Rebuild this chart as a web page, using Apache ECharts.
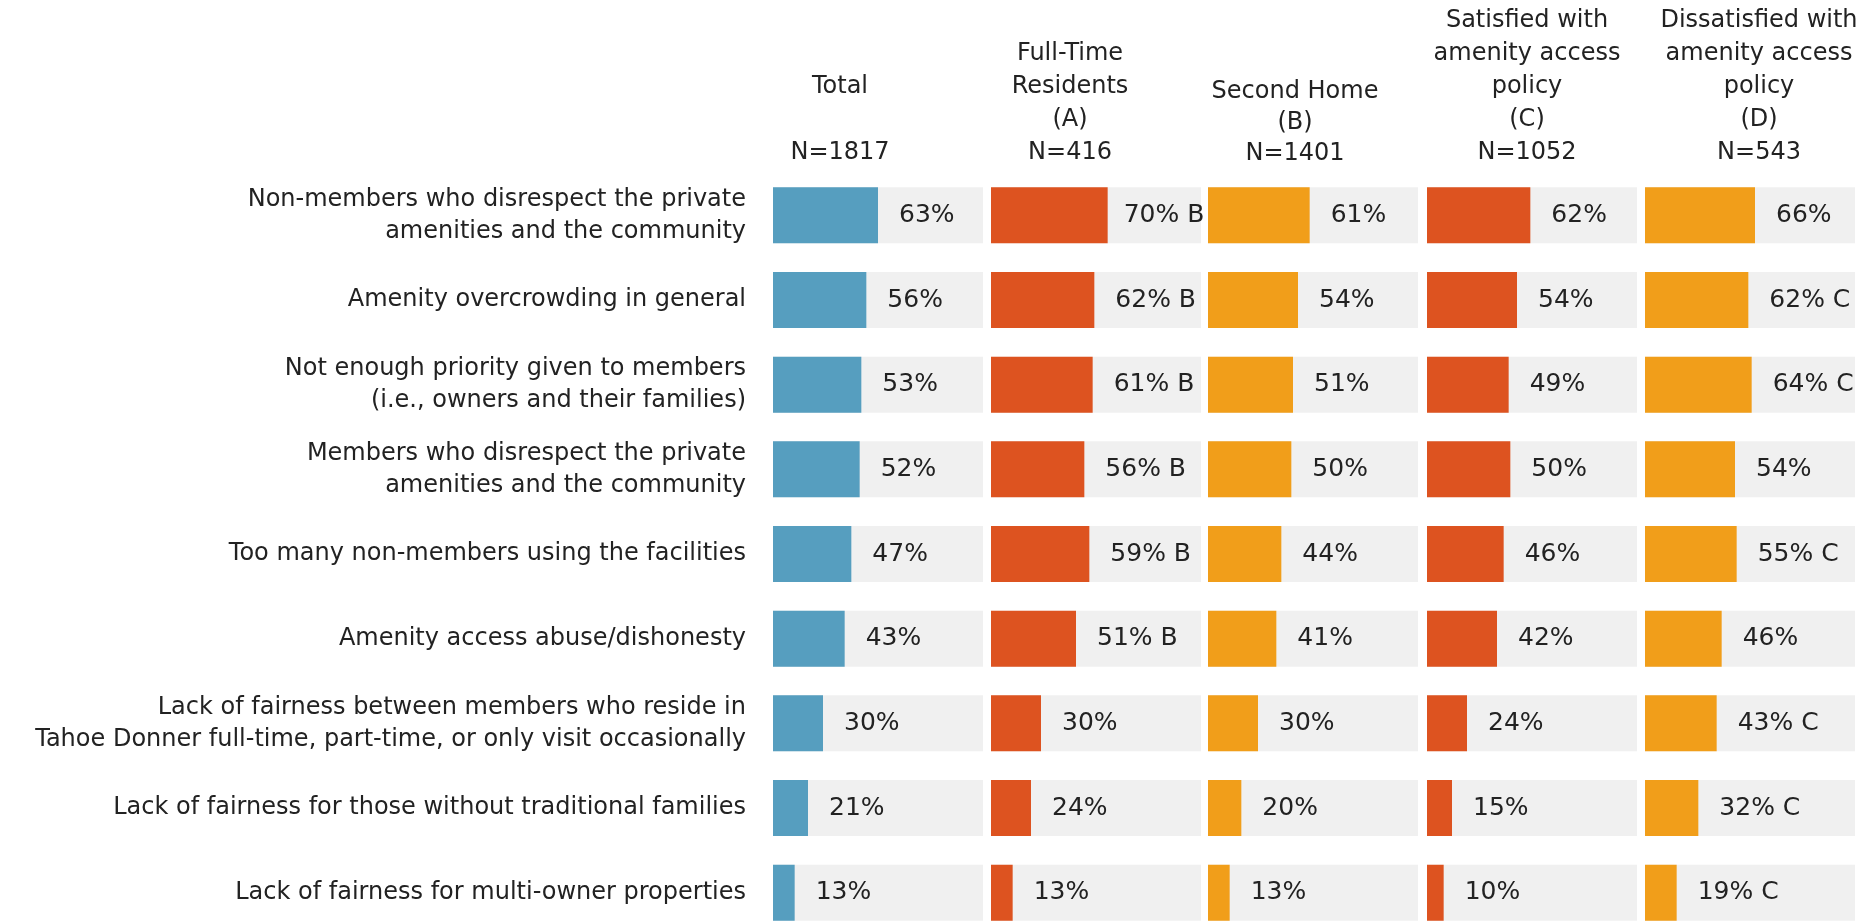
<!DOCTYPE html>
<html>
<head>
<meta charset="utf-8">
<title>Amenity access concerns</title>
<script src="https://cdn.jsdelivr.net/npm/echarts@6/dist/echarts.min.js"></script>
<style>
  html, body { margin: 0; padding: 0; background: #ffffff; width: 1868px; height: 921px; overflow: hidden; }
  #chart { width: 1868px; height: 960px; }
</style>
</head>
<body>
<div id="chart"></div>
<script>
// Concerns about amenity access, listed top to bottom
var categories = [
  'Non-members who disrespect the private\namenities and the community',
  'Amenity overcrowding in general',
  'Not enough priority given to members\n(i.e., owners and their families)',
  'Members who disrespect the private\namenities and the community',
  'Too many non-members using the facilities',
  'Amenity access abuse/dishonesty',
  'Lack of fairness between members who reside in\nTahoe Donner full-time, part-time, or only visit occasionally',
  'Lack of fairness for those without traditional families',
  'Lack of fairness for multi-owner properties'
];

// Column headers
var headers = [
  'Total\n\nN=1817',
  'Full-Time\nResidents\n(A)\nN=416',
  'Second Home\n(B)\nN=1401',
  'Satisfied with\namenity access\npolicy\n(C)\nN=1052',
  'Dissatisfied with\namenity access\npolicy\n(D)\nN=543'
];

// Percent of respondents per group
var totalValues        = [63, 56, 53, 52, 47, 43, 30, 21, 13];
var fullTimeValues     = [70, 62, 61, 56, 59, 51, 30, 24, 13];
var secondHomeValues   = [61, 54, 51, 50, 44, 41, 30, 20, 13];
var satisfiedValues    = [62, 54, 49, 50, 46, 42, 24, 15, 10];
var dissatisfiedValues = [66, 62, 64, 54, 55, 46, 43, 32, 19];

// Significance letters shown after the percentage
var totalSig        = ['', '', '', '', '', '', '', '', ''];
var fullTimeSig     = ['B', 'B', 'B', 'B', 'B', 'B', '', '', ''];
var secondHomeSig   = ['', '', '', '', '', '', '', '', ''];
var satisfiedSig    = ['', '', '', '', '', '', '', '', ''];
var dissatisfiedSig = ['', 'C', 'C', '', 'C', '', 'C', 'C', 'C'];

var panels = [
  { values: totalValues,        sig: totalSig,        color: '#569EBF' },
  { values: fullTimeValues,     sig: fullTimeSig,     color: '#DD5320' },
  { values: secondHomeValues,   sig: secondHomeSig,   color: '#F19E1A' },
  { values: satisfiedValues,    sig: satisfiedSig,    color: '#DD5320' },
  { values: dissatisfiedValues, sig: dissatisfiedSig, color: '#F19E1A' }
];

var FONT = 'DejaVu Sans';
var TEXT = '#222222';
var panelLeft = [773, 991, 1208, 1427, 1645];
var panelWidth = 210;
var headerCenter = [840, 1070, 1295, 1527, 1759];

var grids = [], xAxes = [], yAxes = [], series = [];
panels.forEach(function (p, i) {
  grids.push({
    left: panelLeft[i], width: panelWidth, top: 173, height: 762,
    containLabel: false, outerBoundsMode: 'none'
  });
  xAxes.push({ gridIndex: i, type: 'value', min: 0, max: 126, show: false });
  yAxes.push({
    gridIndex: i,
    type: 'category',
    data: categories,
    inverse: true,
    show: i === 0,
    axisLine: { show: false },
    axisTick: { show: false },
    splitLine: { show: false },
    axisLabel: {
      show: i === 0,
      margin: 27,
      fontFamily: FONT,
      fontSize: 24,
      lineHeight: 32,
      color: TEXT,
      align: 'right'
    }
  });
  series.push({
    type: 'bar',
    xAxisIndex: i,
    yAxisIndex: i,
    // long labels next to long bars sit a little closer so they stay inside the panel
    data: p.values.map(function (v, k) {
      var long = v >= 70 && p.sig[k];
      return long ? { value: v, label: { distance: 16 } } : v;
    }),
    barWidth: 56,
    itemStyle: { color: p.color },
    showBackground: true,
    backgroundStyle: { color: '#F0F0F0' },
    label: {
      show: true,
      position: 'right',
      distance: 21,
      fontFamily: FONT,
      fontSize: 25,
      color: TEXT,
      formatter: function (d) {
        var s = p.sig[d.dataIndex];
        return d.value + '%' + (s ? ' ' + s : '');
      }
    }
  });
});

var graphics = headers.map(function (h, i) {
  return {
    type: 'text',
    x: headerCenter[i],
    y: 169,
    style: {
      text: h,
      fill: TEXT,
      fontFamily: FONT,
      fontSize: 24,
      lineHeight: i === 2 ? 31 : 33,
      align: 'center',
      verticalAlign: 'bottom'
    }
  };
});

var chart = echarts.init(document.getElementById('chart'));
chart.setOption({
  animation: false,
  backgroundColor: '#ffffff',
  grid: grids,
  xAxis: xAxes,
  yAxis: yAxes,
  series: series,
  graphic: graphics
});
</script>
</body>
</html>
